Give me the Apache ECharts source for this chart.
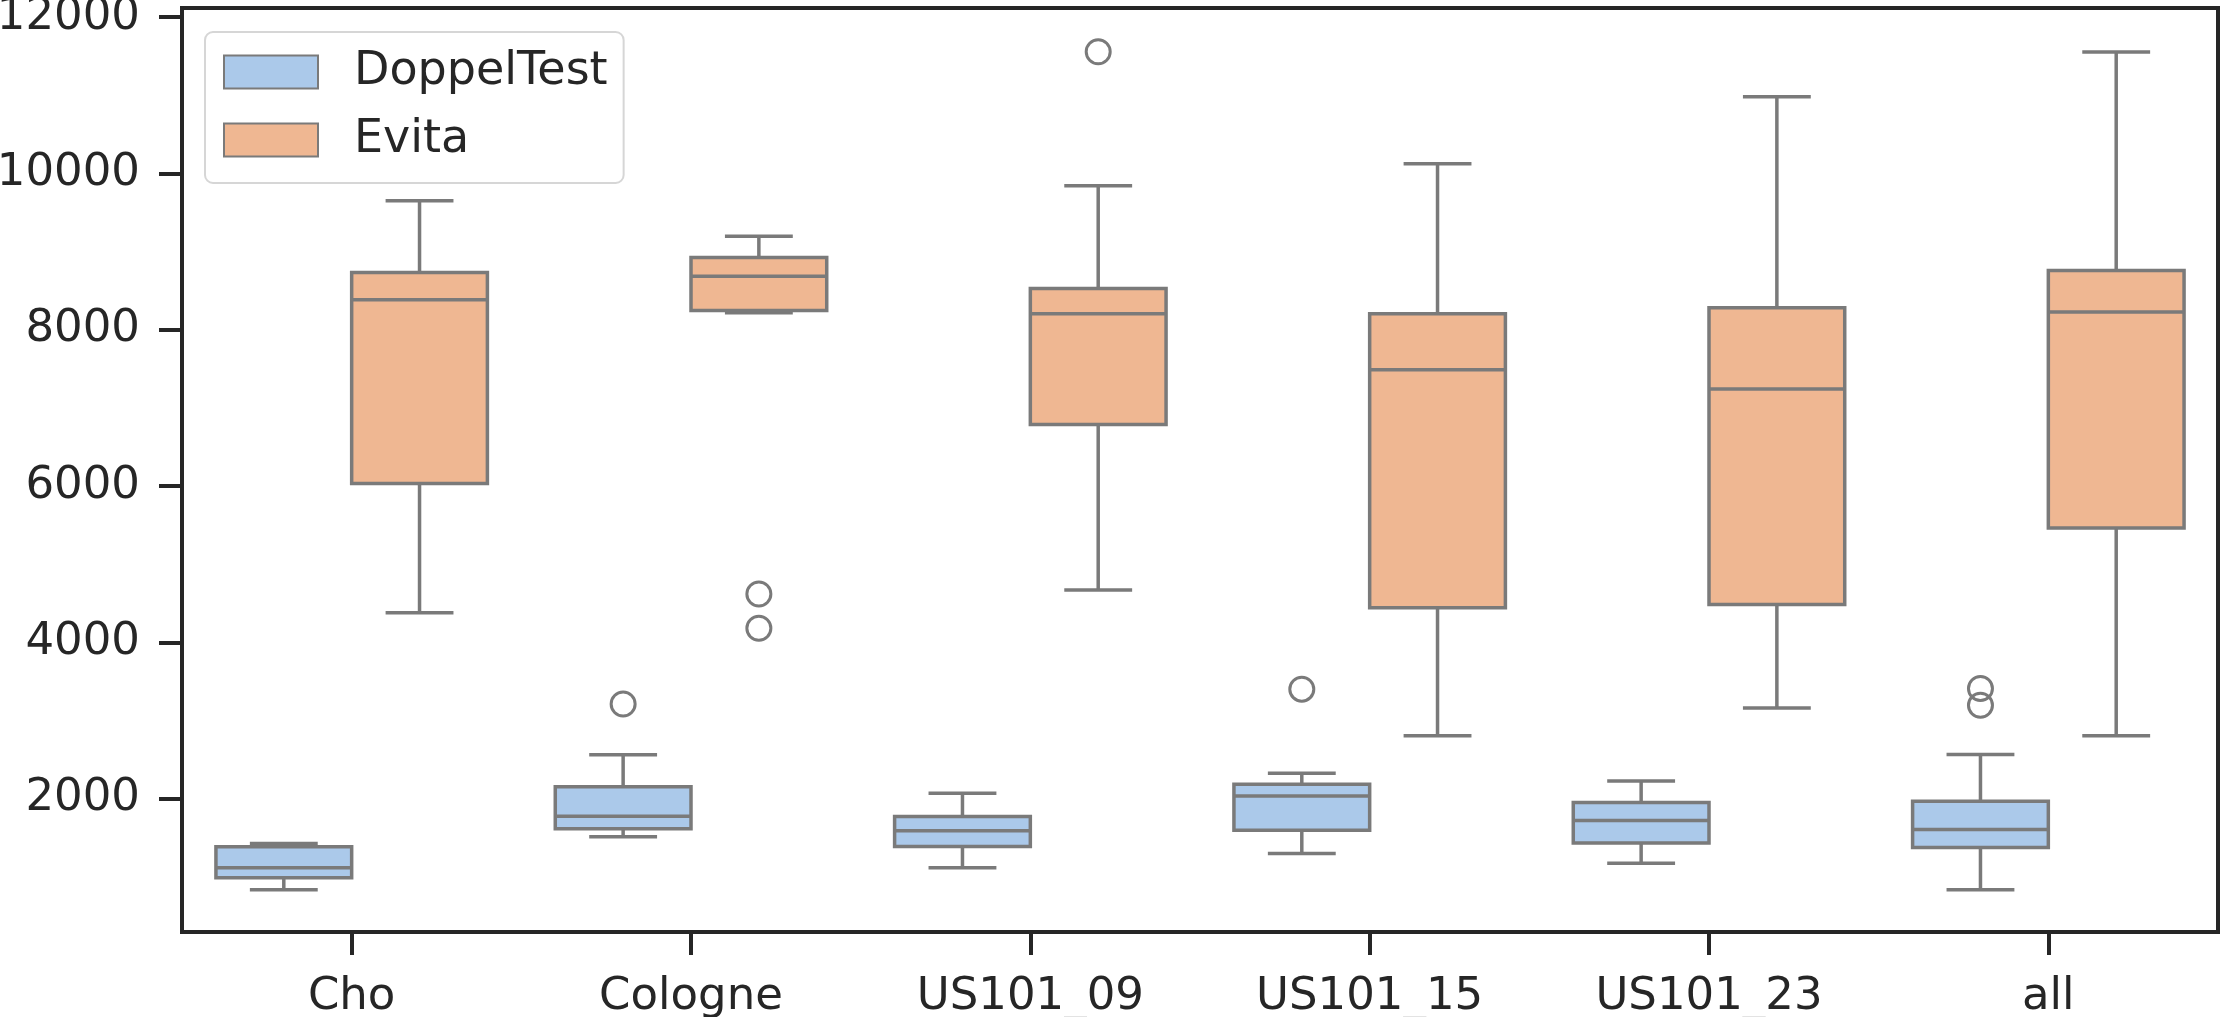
<!DOCTYPE html>
<html>
<head>
<meta charset="utf-8">
<script src="https://cdn.jsdelivr.net/npm/echarts@6/dist/echarts.min.js"></script>
<style>
html,body{margin:0;padding:0;background:#fff;}
#chart{width:2221px;height:1017px;}
</style>
</head>
<body>
<div id="chart"></div>
<script>
// ---- data ----
const categories = ['Cho', 'Cologne', 'US101_09', 'US101_15', 'US101_23', 'all'];
const seriesNames = ['DoppelTest', 'Evita'];
// [min (whisker), q1, median, q3, max (whisker)]
const doppelStats = [
  [834, 990, 1118, 1386, 1428],
  [1514, 1616, 1777, 2152, 2564],
  [1117, 1390, 1589, 1772, 2069],
  [1299, 1598, 2036, 2185, 2325],
  [1175, 1432, 1722, 1953, 2226],
  [834, 1375, 1606, 1969, 2565]
];
const evitaStats = [
  [4380, 6032, 8384, 8733, 9648],
  [8218, 8244, 8683, 8923, 9196],
  [4669, 6787, 8203, 8526, 9842],
  [2805, 4444, 7487, 8205, 10124],
  [3161, 4486, 7242, 8282, 10979],
  [2805, 5463, 8227, 8757, 11553]
];
// [category index, value]
const doppelOutliers = [[1, 3211], [3, 3401], [5, 3410], [5, 3195]];
const evitaOutliers = [[1, 4619], [1, 4180], [2, 11555]];
const yTicks = [2000, 4000, 6000, 8000, 10000, 12000];

// ---- styles ----
const TEXT = '#262626';
const LINE = '#7a7a7a';
const LW = 3.5;
const FILLS = ['#abc9ea', '#efb792'];
const FONT = 'DejaVu Sans';

function boxRenderer(offset, fill) {
  return function (params, api) {
    const i = api.value(0);
    const band = api.size([1, 0])[0];
    const cx = api.coord([i, 0])[0] + offset * band;
    const w = band * 0.4;
    const capW = w / 2;
    const y = k => api.coord([i, api.value(k)])[1];
    const yMin = y(1), yQ1 = y(2), yMed = y(3), yQ3 = y(4), yMax = y(5);
    const ls = { stroke: LINE, lineWidth: LW, fill: null };
    return {
      type: 'group',
      children: [
        { type: 'line', shape: { x1: cx, y1: yQ1, x2: cx, y2: yMin }, style: ls },
        { type: 'line', shape: { x1: cx, y1: yQ3, x2: cx, y2: yMax }, style: ls },
        { type: 'line', shape: { x1: cx - capW / 2, y1: yMin, x2: cx + capW / 2, y2: yMin }, style: ls },
        { type: 'line', shape: { x1: cx - capW / 2, y1: yMax, x2: cx + capW / 2, y2: yMax }, style: ls },
        { type: 'rect', shape: { x: cx - w / 2, y: yQ3, width: w, height: yQ1 - yQ3 },
          style: { fill: fill, stroke: LINE, lineWidth: LW } },
        { type: 'line', shape: { x1: cx - w / 2, y1: yMed, x2: cx + w / 2, y2: yMed }, style: ls }
      ]
    };
  };
}

function outlierRenderer(offset) {
  return function (params, api) {
    const band = api.size([1, 0])[0];
    const p = api.coord([api.value(0), api.value(1)]);
    return {
      type: 'circle',
      shape: { cx: p[0] + offset * band, cy: p[1], r: 12 },
      style: { fill: 'rgba(0,0,0,0)', stroke: LINE, lineWidth: 3 }
    };
  };
}

const chart = echarts.init(document.getElementById('chart'));
chart.setOption({
  animation: false,
  backgroundColor: '#fff',
  textStyle: { fontFamily: FONT },
  grid: {
    left: 182, right: 3, top: 8, bottom: 85,
    containLabel: false, outerBoundsMode: 'none',
    show: true, borderColor: TEXT, borderWidth: 4, backgroundColor: 'transparent'
  },
  legend: {
    orient: 'vertical',
    left: 205, top: 32,
    padding: [17, 16, 20, 18],
    backgroundColor: '#fff',
    borderColor: '#d6d6d6', borderWidth: 2, borderRadius: 8,
    itemWidth: 94, itemHeight: 33, itemGap: 22,
    textStyle: { fontSize: 46, color: TEXT, fontFamily: FONT, padding: [0, 0, 0, 31], lineHeight: 33 },
    data: [
      { name: seriesNames[0], icon: 'rect', itemStyle: { color: FILLS[0], borderColor: LINE, borderWidth: 2 } },
      { name: seriesNames[1], icon: 'rect', itemStyle: { color: FILLS[1], borderColor: LINE, borderWidth: 2 } }
    ]
  },
  xAxis: {
    type: 'category',
    data: categories,
    boundaryGap: true,
    axisLine: { show: true, lineStyle: { color: TEXT, width: 4 } },
    axisTick: { show: true, inside: false, alignWithLabel: true, length: 23, lineStyle: { color: TEXT, width: 4 } },
    axisLabel: { fontSize: 45, color: TEXT, margin: 43, fontFamily: FONT },
    splitLine: { show: false }
  },
  yAxis: {
    type: 'value',
    min: 295, max: 12115,
    axisLine: { show: true, lineStyle: { color: TEXT, width: 4 } },
    axisTick: { show: true, inside: false, length: 23, customValues: yTicks, lineStyle: { color: TEXT, width: 4 } },
    axisLabel: { fontSize: 45, color: TEXT, margin: 42, fontFamily: FONT, customValues: yTicks,
      padding: [6, 0, 0, 0], formatter: v => String(v) },
    splitLine: { show: false }
  },
  series: [
    {
      name: seriesNames[0], type: 'custom',
      itemStyle: { color: FILLS[0], borderColor: LINE },
      renderItem: boxRenderer(-0.2, FILLS[0]),
      encode: { x: 0, y: [1, 2, 3, 4, 5] },
      data: doppelStats.map((s, i) => [i].concat(s))
    },
    {
      name: seriesNames[1], type: 'custom',
      itemStyle: { color: FILLS[1], borderColor: LINE },
      renderItem: boxRenderer(0.2, FILLS[1]),
      encode: { x: 0, y: [1, 2, 3, 4, 5] },
      data: evitaStats.map((s, i) => [i].concat(s))
    },
    {
      name: 'DoppelTest outliers', type: 'custom',
      renderItem: outlierRenderer(-0.2),
      encode: { x: 0, y: 1 },
      data: doppelOutliers
    },
    {
      name: 'Evita outliers', type: 'custom',
      renderItem: outlierRenderer(0.2),
      encode: { x: 0, y: 1 },
      data: evitaOutliers
    }
  ]
});
</script>
</body>
</html>
